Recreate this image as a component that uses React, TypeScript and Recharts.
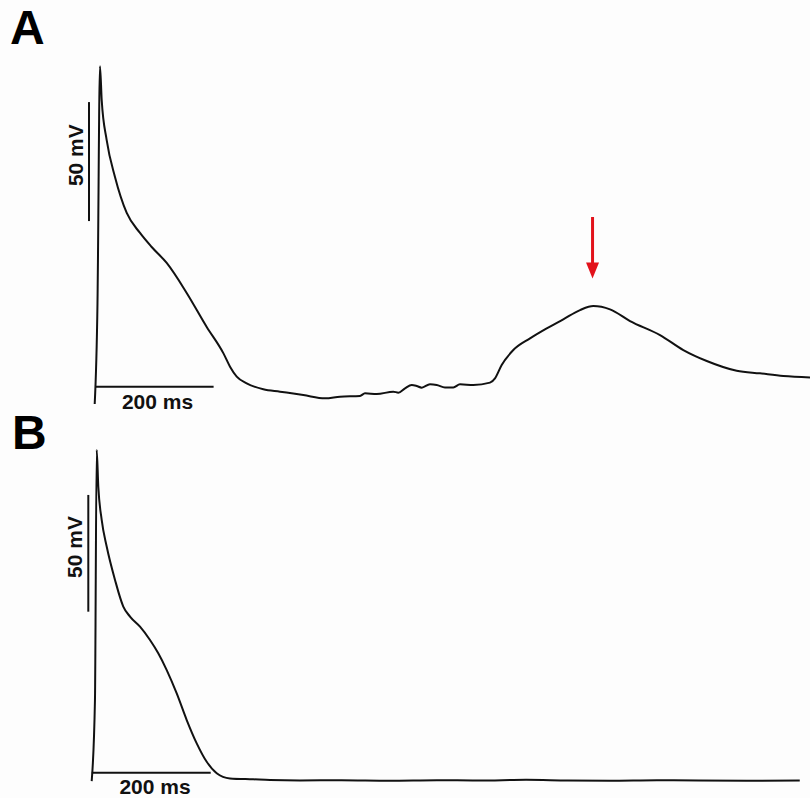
import { LineChart, Line, XAxis, YAxis, ReferenceLine, ReferenceDot } from "recharts"

// panel A: membrane potential (mV) against time (ms)
const timeA = [
  -0.5, 4.2, 8.4, 11.3, 19.7, 33.7, 53.5, 75.9, 95.6, 120.9, 154.6, 188.4, 216.4, 227.7, 239,
  255.8, 283.8, 312, 351.3, 387.9, 413.2, 446.9, 455.3, 475, 503, 511.5, 522.8, 534.1, 542.5,
  550.9, 564.9, 576.2, 590.2, 604.2, 615.5, 637.9, 666.1, 674.5, 685.8, 705.4, 733.6, 761.7,
  789.7, 817.9, 840.3, 868.5, 902.2, 952.8, 992.1, 1031.6, 1082.1, 1121.4, 1160.7, 1205.7,
]
const voltA = [
  -88.8, -46.3, 53.2, 38.9, 22.1, 6.6, -8.5, -16.9, -22.8, -29.5, -42.1, -56.4, -67.4, -73.1,
  -77.3, -80.1, -82.6, -83.6, -85, -86.4, -85.7, -85.4, -84.3, -84.6, -83.6, -84.0, -82.2, -80.8,
  -81.2, -81.9, -80.5, -80.8, -81.8, -81.8, -80.5, -80.8, -79.8, -78.0, -72.4, -66.1, -61.2,
  -57.0, -53.2, -49.3, -47.6, -49.0, -53.9, -59.8, -66.1, -70.7, -74.8, -75.9, -77.0, -77.6,
]

// panel B
const timeB = [
  0, 5.5, 8.4, 11.1, 16.8, 25.2, 39.2, 53.1, 64.4, 81.2, 98, 111.9, 126.1, 142.9, 159.7, 176.5,
  193.3, 210.1, 232.4, 271.6, 299.7, 350, 420, 500, 580, 650, 730, 800, 870, 950, 1020, 1100, 1190,
]
const voltB = [
  -85.5, -50.7, 56.4, 40.7, 26.4, 15, 0.7, -10.7, -15, -19.3, -25, -30.7, -37.9, -47.9, -59.3,
  -69.3, -77.2, -82.1, -84.3, -84.7, -85, -85.2, -85.1, -85.3, -85.1, -85.2, -84.9, -85.2, -85.3,
  -85.1, -85.2, -85.3, -85.2,
]

const panelLabels = ["A", "B"]
const scaleMs = 200
const scaleMv = 50

const FONT = "'Liberation Sans', Arial, sans-serif"
const INK = "#111"

const toRows = (t: number[], v: number[]) => t.map((x, i) => ({ t: x, v: v[i] }))

const textShape = (text: string, vertical = false) => (p: any) => (
  <text
    x={p.cx}
    y={p.cy}
    textAnchor="middle"
    dominantBaseline="central"
    transform={vertical ? `rotate(-90 ${p.cx} ${p.cy})` : undefined}
    fontFamily={FONT}
    fontWeight="bold"
    fontSize={21}
    fill={INK}
  >
    {text}
  </text>
)

const arrowHead = (p: any) => (
  <path d={`M${p.cx - 6.5},${p.cy - 16} L${p.cx + 6.5},${p.cy - 16} L${p.cx},${p.cy} Z`} fill="#e2121b" />
)

type Bars = {
  barT: number // x position of the voltage bar
  barV: number // top of the voltage bar
  baseV: number // level of the time bar
  mvLabel: [number, number]
  msLabel: [number, number]
}

function Trace({
  rows,
  width,
  height,
  xDomain,
  yDomain,
  bars,
  children,
}: {
  rows: { t: number; v: number }[]
  width: number
  height: number
  xDomain: [number, number]
  yDomain: [number, number]
  bars: Bars
  children?: any
}) {
  return (
    <LineChart width={width} height={height} data={rows} margin={{ top: 0, right: 0, bottom: 0, left: 0 }}>
      <XAxis dataKey="t" type="number" domain={xDomain} hide />
      <YAxis type="number" domain={yDomain} hide />
      <ReferenceLine
        segment={[
          { x: bars.barT, y: bars.barV },
          { x: bars.barT, y: bars.barV - scaleMv },
        ]}
        stroke={INK}
        strokeWidth={2}
      />
      <ReferenceLine
        segment={[
          { x: 0, y: bars.baseV },
          { x: scaleMs, y: bars.baseV },
        ]}
        stroke={INK}
        strokeWidth={2}
      />
      <ReferenceDot x={bars.mvLabel[0]} y={bars.mvLabel[1]} shape={textShape(`${scaleMv} mV`, true)} />
      <ReferenceDot x={bars.msLabel[0]} y={bars.msLabel[1]} shape={textShape(`${scaleMs} ms`)} />
      {children}
      <Line
        type="monotone"
        dataKey="v"
        stroke={INK}
        strokeWidth={2}
        dot={false}
        activeDot={false}
        isAnimationActive={false}
      />
    </LineChart>
  )
}

const letterStyle = {
  position: "absolute" as const,
  fontFamily: FONT,
  fontWeight: "bold" as const,
  fontSize: 48,
  lineHeight: "48px",
  color: "#000",
}

export default function App() {
  return (
    <div
      style={{
        position: "absolute",
        left: 0,
        top: 0,
        width: 810,
        height: 798,
        background: "#fdfdfd",
        overflow: "hidden",
      }}
    >
      <div style={{ position: "absolute", left: 0, top: 0 }}>
        <Trace
          rows={toRows(timeA, voltA)}
          width={810}
          height={420}
          xDomain={[-160.2, 1205.7]}
          yDomain={[-95.5, 81]}
          bars={{ barT: -10.1, barV: 38.1, baseV: -81.5, mvLabel: [-33.7, 15.8], msLabel: [105.4, -87.7] }}
        >
          <ReferenceLine
            segment={[
              { x: 839, y: -10.2 },
              { x: 839, y: -30 },
            ]}
            stroke="#e2121b"
            strokeWidth={3}
          />
          <ReferenceDot x={839} y={-36} shape={arrowHead} />
        </Trace>
      </div>
      <div style={{ position: "absolute", left: 0, top: 420 }}>
        <Trace
          rows={toRows(timeB, voltB)}
          width={810}
          height={378}
          xDomain={[-154.1, 1207.2]}
          yDomain={[-92.7, 69.2]}
          bars={{ barT: -5.7, barV: 37.1, baseV: -81.9, mvLabel: [-28.1, 14.8], msLabel: [106.4, -87.6] }}
        />
      </div>
      <div style={{ ...letterStyle, left: 10, top: 4 }}>{panelLabels[0]}</div>
      <div style={{ ...letterStyle, left: 12, top: 409 }}>{panelLabels[1]}</div>
    </div>
  )
}
